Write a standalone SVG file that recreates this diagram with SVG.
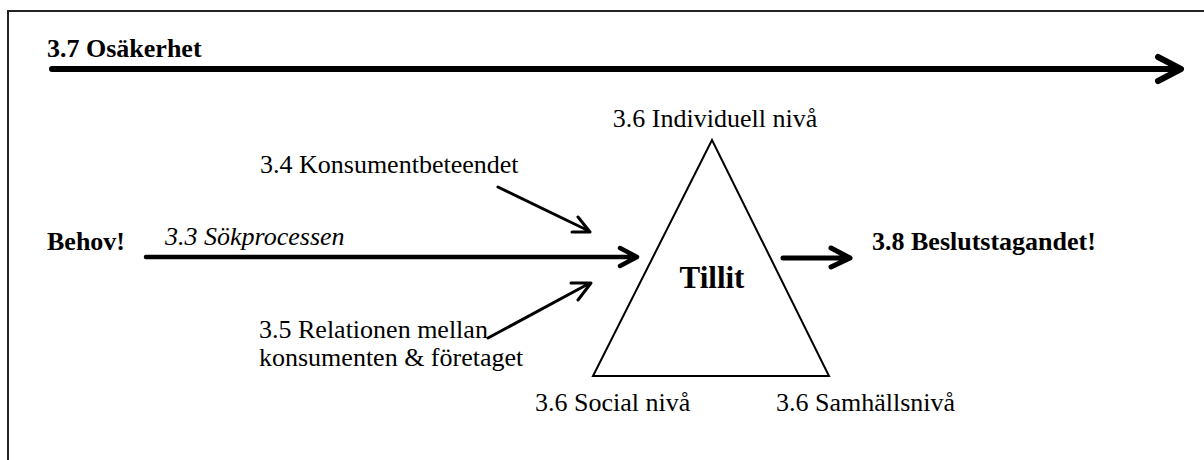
<svg xmlns="http://www.w3.org/2000/svg" width="1204" height="460" viewBox="0 0 1204 460">
<style>
text{font-family:"Liberation Serif","Times New Roman",serif;fill:#000}
.r{font-size:26px}
.b{font-size:26px;font-weight:bold}
.i{font-size:26px;font-style:italic}
.ln{stroke:#000;fill:none;stroke-linecap:round;stroke-linejoin:round}
</style>
<rect width="1204" height="460" fill="#fff"/>
<path d="M8,462 V11 H1206" fill="none" stroke="#222" stroke-width="2"/>
<g id="node-osakerhet"><text class="b" x="47" y="57">3.7 Osäkerhet</text></g>
<g id="node-behov"><text class="b" x="47" y="250">Behov!</text></g>
<g id="node-sokprocessen"><text class="i" x="165" y="245">3.3 Sökprocessen</text></g>
<g id="node-konsumentbeteendet"><text class="r" x="260" y="173">3.4 Konsumentbeteendet</text></g>
<g id="node-relationen"><text class="r" x="259" y="338">3.5 Relationen mellan</text><text class="r" x="259" y="366">konsumenten &amp; företaget</text></g>
<g id="node-tillit">
<polygon points="712,140 593,376 829,376" fill="none" stroke="#000" stroke-width="2"/>
<text x="712" y="288" text-anchor="middle" style="font-size:31px;font-weight:bold">Tillit</text>
</g>
<g id="node-individuell"><text class="r" x="715" y="127" text-anchor="middle">3.6 Individuell nivå</text></g>
<g id="node-social"><text class="r" x="535" y="411">3.6 Social nivå</text></g>
<g id="node-samhalle"><text class="r" x="776" y="411">3.6 Samhällsnivå</text></g>
<g id="node-beslut"><text class="b" x="872" y="250">3.8 Beslutstagandet!</text></g>
<g id="connectors">
<path class="ln" stroke-width="6" d="M52,69 H1180 M1158,57 L1181,69 L1158,81"/>
<path class="ln" stroke-width="4.5" d="M146,257 H637 M620,248 L637,257 L620,266"/>
<path class="ln" stroke-width="3" d="M498,187 L589,231 M578,217 L590,232 L572,232"/>
<path class="ln" stroke-width="3" d="M488,338 L590,283 M571,283 L591,283 L578,300"/>
<path class="ln" stroke-width="5" d="M783,258 H849 M831,248 L850,258 L831,267"/>
</g>
</svg>
